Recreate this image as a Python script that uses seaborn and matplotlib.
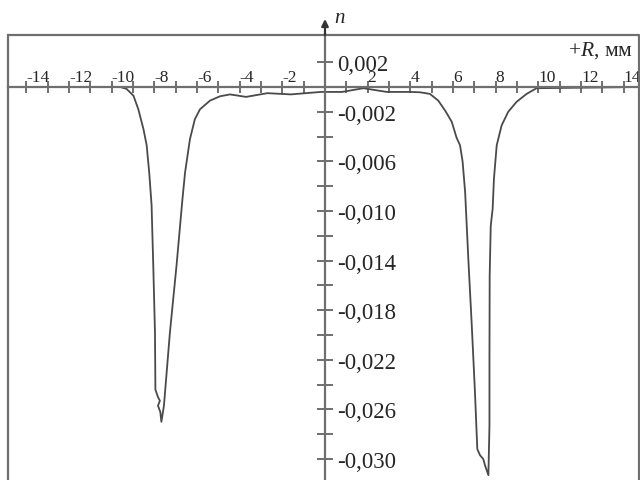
import numpy as np
import pandas as pd
import seaborn as sns
import matplotlib.pyplot as plt
from matplotlib.ticker import FixedLocator, FuncFormatter

# profile: R in mm, n
R = [-14.9, -9.6, -9.3, -8.98, -8.75, -8.51, -8.36, -8.24, -8.13, -8.05,
     -7.97, -7.95, -7.83, -7.74, -7.83, -7.72, -7.67, -7.55, -7.27, -6.96,
     -6.68, -6.56, -6.33, -6.1, -5.86, -5.39, -4.92, -4.45, -3.7, -2.7,
     -1.6, -0.2, 0.8, 1.8, 2.9, 4.0, 4.46, 4.92, 5.31, 5.63, 5.94, 6.17,
     6.33, 6.45, 6.57, 6.72, 6.88, 7.03, 7.14, 7.27, 7.42, 7.5, 7.66, 7.71,
     7.71, 7.72, 7.77, 7.86, 7.92, 8.05, 8.28, 8.59, 8.98, 9.45, 9.92, 14.8]
n = [0.0, 0.0, -0.00016, -0.0007, -0.0018, -0.0034, -0.0047, -0.0069,
     -0.0095, -0.0144, -0.0198, -0.0244, -0.0250, -0.0253, -0.0257, -0.0262,
     -0.0270, -0.0257, -0.0198, -0.0144, -0.0090, -0.0069, -0.0042, -0.0026,
     -0.0018, -0.0011, -0.00075, -0.0006, -0.0008, -0.0005, -0.0006,
     -0.0004, -0.0004, -0.0001, -0.0004, -0.0004, -0.00043, -0.00056,
     -0.0011, -0.0019, -0.0028, -0.0041, -0.0047, -0.0060, -0.0085, -0.0139,
     -0.0192, -0.0246, -0.0292, -0.0297, -0.0300, -0.0305, -0.0313, -0.0273,
     -0.0219, -0.0152, -0.0112, -0.0098, -0.0074, -0.0047, -0.0031, -0.0020,
     -0.0012, -0.00056, -0.0001, 0.0]

x_major = [-14, -12, -10, -8, -6, -4, -2, 2, 4, 6, 8, 10, 12, 14]
x_minor = [-13, -11, -9, -7, -5, -3, -1, 1, 3, 5, 7, 9, 11, 13]
y_major = [0.002, -0.002, -0.006, -0.010, -0.014, -0.018, -0.022, -0.026, -0.030]
y_minor = [-0.004, -0.008, -0.012, -0.016, -0.020, -0.024, -0.028]

df = pd.DataFrame({"R": R, "n": n})

sns.set_style("white")
plt.rcParams["font.family"] = ["Liberation Serif", "DejaVu Serif"]
plt.rcParams["axes.unicode_minus"] = False
plt.rcParams["mathtext.fontset"] = "custom"
plt.rcParams["mathtext.it"] = "Liberation Serif:italic"
plt.rcParams["mathtext.rm"] = "Liberation Serif"

axcol = "#6f6f6f"
fig = plt.figure(figsize=(6.4, 4.81), dpi=100)
ax = fig.add_axes([8 / 640, 0, 631 / 640, 445 / 481])

sns.lineplot(data=df, x="R", y="n", sort=False, estimator=None,
             color="#4a4a4a", lw=1.3, ax=ax)

ax.set_xlim(-14.86, 14.72)
ax.set_ylim(-0.03169, 0.00419)

# axes through the origin
ax.spines["top"].set_position(("data", 0))
ax.spines["right"].set_position(("data", 0))
ax.spines["bottom"].set_visible(False)
for s in ["top", "right", "left"]:
    ax.spines[s].set_color(axcol)
    ax.spines[s].set_linewidth(1.6)
ax.xaxis.set_ticks_position("top")
ax.yaxis.set_ticks_position("right")

ax.xaxis.set_major_locator(FixedLocator(x_major))
ax.xaxis.set_minor_locator(FixedLocator(x_minor))
ax.yaxis.set_major_locator(FixedLocator(y_major))
ax.yaxis.set_minor_locator(FixedLocator(y_minor))
ax.xaxis.set_major_formatter(FuncFormatter(lambda v, p: f"{v:g}"))
ax.yaxis.set_major_formatter(FuncFormatter(lambda v, p: f"{v:.3f}".replace(".", ",")))

ax.tick_params(axis="x", which="both", direction="inout", length=9, width=1.4,
               color=axcol, labelsize=12.5, pad=-3)
ax.tick_params(axis="y", which="both", direction="inout", length=12, width=1.4,
               color=axcol, labelsize=16.5, pad=3)
for lab in ax.get_xticklabels():
    lab.set_horizontalalignment("left")
ax.set_xlabel("")
ax.set_ylabel("")

# frame: top and right edges
ax.plot([0, 1, 1], [1, 1, 0], transform=ax.transAxes, color=axcol,
        lw=1.6, clip_on=False)

# arrow of the n axis above the frame
ax.annotate("", xy=(0, 1 + 16 / 445), xytext=(0, 1),
            xycoords=("data", "axes fraction"), textcoords=("data", "axes fraction"),
            arrowprops=dict(arrowstyle="-|>", color="#333333", lw=1.6,
                            mutation_scale=10, shrinkA=0, shrinkB=0),
            annotation_clip=False)

fig.text(334 / 640, 1 - 23 / 481, "n", style="italic", fontsize=15, va="baseline")
fig.text(633 / 640, 1 - 56 / 481, r"+$\mathit{R}$, мм", fontsize=15.5,
         ha="right", va="baseline")

fig.savefig("out.png", dpi=100)
